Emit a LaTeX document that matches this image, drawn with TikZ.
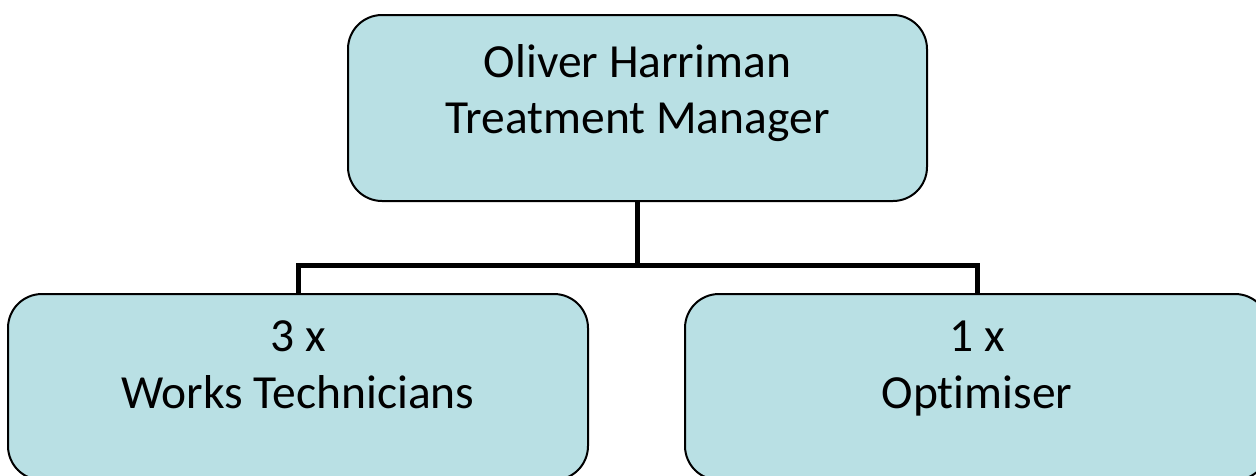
\documentclass[tikz,border=0pt]{standalone}
\usepackage{fontspec}
\setmainfont[Ligatures={NoCommon}]{Carlito}
\definecolor{boxfill}{RGB}{185,224,228}
\begin{document}
\begin{tikzpicture}[x=1pt,y=-1pt,
  box/.style={draw=black, line width=2pt, fill=boxfill, rounded corners=34pt, inner sep=0pt},
  txt/.style={anchor=base, inner sep=0pt, font=\fontsize{47.5}{57}\selectfont},
  conn/.style={draw=black, line width=5pt}]
\useasboundingbox (0,0) rectangle (1256,475);
\node[box, minimum width=579pt, minimum height=186pt] (top) at (637.5,108) {};
\node[box, minimum width=580pt, minimum height=186pt] (lt) at (298,387) {};
\node[box, minimum width=584pt, minimum height=186pt] (rt) at (977,387) {};
\node[txt] (t1) at (637.5,77) {Oliver Harriman};
\node[txt] (t2) at (637.5,133) {Treatment Manager};
\node[txt] (l1) at (298,351) {3 x};
\node[txt] (l2) at (298,408) {Works Technicians};
\node[txt] (r1) at (977,351) {1 x};
\node[txt] (r2) at (977,408) {Optimiser};
\coordinate (bus) at (637.5,265);
\draw[conn] (top.south) -- (bus);
\draw[conn] (bus) -| (lt.north);
\draw[conn] (bus) -| (rt.north);
\end{tikzpicture}
\end{document}
